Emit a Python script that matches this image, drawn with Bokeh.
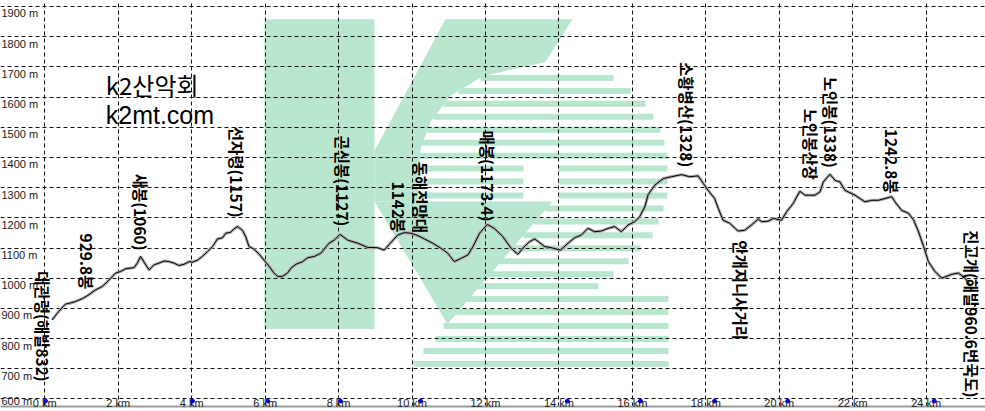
import math
from bokeh.plotting import figure
from bokeh.models import ColumnDataSource, LabelSet, Label, Range1d, FixedTicker, CustomJSTickFormatter
from bokeh.core.properties import value
from bokeh.embed import file_html
from bokeh.resources import INLINE

# ---------------- data ----------------
dist_km = [0.20, 0.38, 0.56, 0.70, 0.84, 1.02, 1.20, 1.38, 1.57, 1.75, 1.93, 2.06, 2.20, 2.43, 2.52,
           2.61, 2.72, 2.84, 2.97, 3.11, 3.25, 3.38, 3.52, 3.65, 3.79, 3.93, 4.02, 4.16, 4.29, 4.43,
           4.57, 4.70, 4.84, 4.93, 5.06, 5.15, 5.25, 5.38, 5.47, 5.56, 5.70, 5.84, 5.97, 6.11, 6.24,
           6.34, 6.47, 6.61, 6.70, 6.84, 7.02, 7.16, 7.34, 7.52, 7.74, 7.88, 8.04, 8.25, 8.52, 8.79,
           9.06, 9.24, 9.38, 9.61, 9.79, 9.97, 10.16, 10.34, 10.56, 10.79, 10.97, 11.15, 11.34, 11.52,
           11.66, 11.84, 12.05, 12.24, 12.47, 12.70, 12.88, 13.06, 13.20, 13.34, 13.44, 13.61, 13.79,
           14.04, 14.25, 14.43, 14.61, 14.79, 14.97, 15.15, 15.34, 15.52, 15.70, 15.88, 16.06, 16.20,
           16.34, 16.43, 16.61, 16.84, 17.06, 17.34, 17.56, 17.79, 17.93, 18.06, 18.24, 18.34, 18.47,
           18.65, 18.88, 19.06, 19.24, 19.43, 19.52, 19.70, 19.84, 20.06, 20.20, 20.38, 20.56, 20.70,
           20.97, 21.11, 21.20, 21.38, 21.52, 21.65, 21.79, 22.06, 22.33, 22.52, 22.70, 22.88, 23.06,
           23.15, 23.33, 23.52, 23.66, 23.79, 23.93, 24.06, 24.24, 24.43, 24.70, 24.88, 25.06, 25.15,
           25.20]
elev_m = [862, 890, 914, 918, 923, 932, 945, 961, 973, 994, 1017, 1022, 1031, 1035, 1050,
          1072, 1050, 1027, 1044, 1050, 1057, 1055, 1050, 1042, 1046, 1055, 1053, 1060, 1072, 1088,
          1105, 1130, 1134, 1149, 1152, 1163, 1171, 1159, 1138, 1105, 1096, 1079, 1060, 1039, 1017,
          1006, 1006, 1017, 1033, 1046, 1055, 1068, 1072, 1083, 1116, 1126, 1145, 1126, 1116, 1102,
          1101, 1093, 1112, 1143, 1151, 1149, 1141, 1130, 1116, 1099, 1083, 1055, 1066, 1077,
          1105, 1149, 1178, 1165, 1138, 1099, 1079, 1105, 1121, 1130, 1121, 1105, 1101,
          1093, 1116, 1134, 1143, 1165, 1154, 1156, 1165, 1171, 1154, 1176, 1187, 1204,
          1237, 1277, 1308, 1330, 1336, 1343, 1336, 1339, 1314, 1291, 1264, 1231, 1192,
          1182, 1156, 1159, 1176, 1196, 1187, 1189, 1198, 1192, 1220, 1248, 1288, 1275,
          1275, 1286, 1319, 1344, 1324, 1319, 1291, 1275, 1253, 1258, 1258, 1264, 1270,
          1253, 1225, 1215, 1192, 1154, 1105, 1055, 1022, 1000, 1013, 1017, 1000, 984,
          974]

# waypoint names, their distance and the elevation where the vertical label starts
wp_names = ["대관령(해발832)", "929.8봉", "새봉(1060)", "선자령(1157)", "곤신봉(1127)", "1142봉",
            "동해전망대", "매봉(1173.4)", "소황병산(1328)", "안개지니사거리", "노인봉산장",
            "노인봉(1338)", "1242.8봉", "진고개(해발960.6번국도)"]
wp_km = [-0.04, 1.14, 2.63, 5.23, 8.12, 9.65, 10.25, 12.07, 17.50, 18.95, 20.86, 21.40, 23.06, 25.24]
wp_label_top_m = [1023, 1148, 1346, 1502, 1473, 1320, 1386, 1489, 1716, 1126, 1561, 1667, 1495, 1159]

# small blue markers on the distance axis
marker_km = [0.02, 4.02, 6.07, 8.05, 10.23, 14.23, 16.22, 18.24, 20.23, 24.22]

x_ticks = [0, 2, 4, 6, 8, 10, 12, 14, 16, 18, 20, 22, 24]
y_ticks = [600, 700, 800, 900, 1000, 1100, 1200, 1300, 1400, 1500, 1600, 1700, 1800, 1900]
y_tick_labels = [f"{v} m" for v in y_ticks]

brand_lines = ["k2산악회", "k2mt.com"]

# ---------------- figure ----------------
X0, X1 = -1.206, 25.615
Y0, Y1 = 575, 1919.8
p = figure(width=985, height=411, output_backend="svg", toolbar_location=None, title=None,
           x_range=Range1d(X0, X1), y_range=Range1d(Y0, Y1),
           min_border_left=0, min_border_right=0, min_border_top=0, min_border_bottom=0)
p.outline_line_color = None
p.background_fill_color = "white"
p.border_fill_color = "white"
p.yaxis.visible = False

# watermark logo (K2), defined in reference-picture pixel units and mapped to data units
def lx(px):
    return (px - 44.3) / 36.725

def ly(py):
    return 1000 + (280 - py) * 3.3

LOGO = "#b8e6cf"
bar = [(264, 20), (374, 20), (374, 331), (264, 331)]
arm = [(374, 152), (445, 20), (572, 20), (545, 63), (483, 77), (450, 97), (430, 123),
       (420, 150), (417, 203), (374, 203)]
leg = [(374, 203), (552, 203), (447, 326)]
polys = [bar, arm, leg]
p.patches(xs=[[lx(a) for a, b in poly] for poly in polys],
          ys=[[ly(b) for a, b in poly] for poly in polys],
          fill_color=LOGO, line_color=None, level="image")

stripes = [  # (center y, left x, right x)
    (79, 480, 613), (92, 458, 630), (105, 443, 645), (118, 433, 653), (131, 426, 660),
    (144, 421, 664), (157, 418, 667),
    (170, 418, 523), (183, 418, 523), (197, 418, 523),
    (170, 558, 667), (183, 558, 667), (197, 558, 667),
    (210, 545, 663), (223, 533, 658), (237, 523, 652), (250, 513, 640), (263, 497, 628),
    (276, 483, 613), (288, 470, 598),
    (301, 463, 668), (314, 453, 668), (328, 443, 668), (341, 435, 668), (353, 423, 668),
    (366, 413, 668),
]
p.quad(left=[lx(s[1]) for s in stripes], right=[lx(s[2]) for s in stripes],
       top=[ly(s[0] - 3) for s in stripes], bottom=[ly(s[0] + 3) for s in stripes],
       fill_color=LOGO, line_color=None, level="image")

# grid
p.xgrid.ticker = FixedTicker(ticks=x_ticks)
p.ygrid.ticker = FixedTicker(ticks=y_ticks)
for g in (p.xgrid, p.ygrid):
    g.grid_line_color = "#111111"
    g.grid_line_dash = "4 3"
    g.grid_line_width = 1

# distance axis (labels pulled up onto the lowest grid line)
p.xaxis.ticker = FixedTicker(ticks=x_ticks)
p.xaxis.formatter = CustomJSTickFormatter(code="return tick + ' km';")
p.xaxis.axis_line_color = "#9c9c9c"
p.xaxis.axis_line_width = 2
p.xaxis.major_tick_line_color = None
p.xaxis.minor_tick_line_color = None
p.xaxis.major_tick_out = 0
p.xaxis.major_tick_in = 0
p.xaxis.major_label_text_font = "Liberation Sans"
p.xaxis.major_label_text_font_size = "11px"
p.xaxis.major_label_text_color = "#1a1a1a"
p.xaxis.major_label_standoff = -10
p.xaxis.major_label_text_align = "left"

# elevation tick labels, drawn inside the chart under each grid line
ysrc = ColumnDataSource(dict(x=[X0] * len(y_ticks), y=y_ticks, text=y_tick_labels,
                             dy=[4] + [-1] * (len(y_ticks) - 1)))
p.add_layout(LabelSet(x="x", y="y", text="text", source=ysrc, x_offset=1, y_offset="dy",
                      text_align="left", text_baseline="top",
                      text_font=value("Liberation Sans"), text_font_size="11px",
                      text_color="#1a1a1a"))

# profile line with light halo
src = ColumnDataSource(dict(x=dist_km, y=elev_m))
p.line("x", "y", source=src, line_color="#a8a8a8", line_width=3)
p.line("x", "y", source=src, line_color="#000000", line_width=1)

# axis markers
p.scatter(x=marker_km, y=[593] * len(marker_km), size=4, color="#0000ff", marker="circle")

# waypoint labels (vertical, reading top to bottom)
lsrc = ColumnDataSource(dict(x=wp_km, y=wp_label_top_m, text=wp_names))
p.add_layout(LabelSet(x="x", y="y", text="text", source=lsrc, angle=-math.pi / 2,
                      text_align="left", text_baseline="middle",
                      text_font=value("Noto Sans CJK KR"), text_font_size="15.5px",
                      text_font_style="bold", text_color="#000000"))

# brand text
p.add_layout(Label(x=1.66, y=1643, text=brand_lines[0], text_font="Noto Sans CJK KR",
                   text_font_size="24px", text_baseline="middle", text_color="#000000"))
p.add_layout(Label(x=1.66, y=1541, text=brand_lines[1], text_font="Liberation Sans",
                   text_font_size="25px", text_baseline="middle", text_color="#000000"))

open("out.html", "w").write(file_html(p, INLINE))
